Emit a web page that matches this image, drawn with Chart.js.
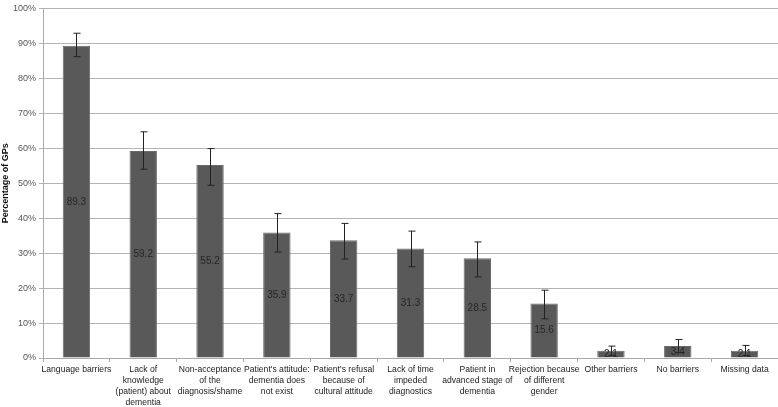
<!DOCTYPE html>
<html>
<head>
<meta charset="utf-8">
<script src="https://cdn.jsdelivr.net/npm/chart.js@4"></script>
<style>
  html, body { margin: 0; padding: 0; background: #fff; }
  #wrap { width: 778px; height: 407px; }
</style>
</head>
<body>
<div id="wrap"><canvas id="chart-area"></canvas></div>
<script>

/*=============================================
DATA
=============================================*/

const categories = [
    'Language barriers',
    ['Lack of', 'knowledge', '(patient) about', 'dementia'],
    ['Non-acceptance', 'of the', 'diagnosis/shame'],
    ["Patient's attitude:", 'dementia does', 'not exist'],
    ["Patient's refusal", 'because of', 'cultural attitude'],
    ['Lack of time', 'impeded', 'diagnostics'],
    ['Patient in', 'advanced stage of', 'dementia'],
    ['Rejection because', 'of different', 'gender'],
    'Other barriers',
    'No barriers',
    'Missing data'
]

const percentages = [89.3, 59.2, 55.2, 35.9, 33.7, 31.3, 28.5, 15.6, 2.1, 3.4, 2.1]

const errLow = [86.2, 54.0, 49.4, 30.3, 28.3, 26.1, 23.2, 11.2, 0.8, 1.5, 0.7]

const errHigh = [92.9, 64.7, 59.9, 41.3, 38.5, 36.3, 33.2, 19.4, 3.4, 5.3, 3.6]

const yTicks = [0, 10, 20, 30, 40, 50, 60, 70, 80, 90, 100]

const FONT = "'Liberation Sans', Arial, sans-serif"

/*=============================================
ERROR BARS + LABELS
=============================================*/

const errorBars = {
    id: 'errorBars',
    afterDatasetsDraw(chart) {
        let ctx = chart.ctx
        let meta = chart.getDatasetMeta(0)
        let y = chart.scales.y
        ctx.save()
        ctx.strokeStyle = '#222'
        ctx.lineWidth = 1
        meta.data.forEach((bar, i) => {
            let x = Math.round(bar.x) + 0.5
            let top = y.getPixelForValue(errHigh[i])
            let bot = y.getPixelForValue(errLow[i])
            ctx.beginPath()
            ctx.moveTo(x, top)
            ctx.lineTo(x, bot)
            ctx.moveTo(x - 3, top)
            ctx.lineTo(x + 4, top)
            ctx.moveTo(x - 3, bot)
            ctx.lineTo(x + 4, bot)
            ctx.stroke()
        })
        ctx.restore()
    }
}

const valueLabels = {
    id: 'valueLabels',
    afterDatasetsDraw(chart) {
        let ctx = chart.ctx
        let meta = chart.getDatasetMeta(0)
        let y = chart.scales.y
        ctx.save()
        ctx.fillStyle = '#262626'
        ctx.font = '10px ' + FONT
        ctx.textAlign = 'center'
        ctx.textBaseline = 'middle'
        meta.data.forEach((bar, i) => {
            let mid = (bar.y + y.getPixelForValue(0)) / 2
            ctx.fillText(String(percentages[i]), bar.x, mid)
        })
        ctx.restore()
    }
}

/*=============================================
CHART
=============================================*/

let config = {
    type: 'bar',
    data: {
        labels: categories,
        datasets: [{
            data: percentages,
            backgroundColor: '#595959',
            borderColor: '#6a6a6a',
            borderWidth: 1,
            barPercentage: 0.41,
            categoryPercentage: 1
        }]
    },
    options: {
        responsive: true,
        maintainAspectRatio: false,
        animation: false,
        layout: { padding: { top: 0, right: 0, left: 0, bottom: 0 } },
        plugins: {
            legend: { display: false },
            tooltip: { enabled: false }
        },
        scales: {
            x: {
                offset: true,
                afterFit: axis => {
                    axis.height = 49
                },
                grid: {
                    offset: true,
                    drawOnChartArea: false,
                    drawTicks: true,
                    tickLength: 4,
                    color: '#a8a8a8'
                },
                border: { color: '#a8a8a8' },
                ticks: {
                    color: '#222',
                    font: { family: FONT, size: 8.6, lineHeight: 1.28 },
                    maxRotation: 0,
                    minRotation: 0,
                    autoSkip: false,
                    padding: 2
                }
            },
            y: {
                min: 0,
                max: 100,
                afterBuildTicks: axis => {
                    axis.ticks = yTicks.map(v => ({ value: v }))
                },
                afterFit: axis => {
                    axis.width = 43
                },
                grid: {
                    color: '#b4b4b4',
                    tickLength: 4,
                    lineWidth: 1
                },
                border: { color: '#a8a8a8' },
                title: {
                    display: true,
                    text: 'Percentage of GPs',
                    color: '#111',
                    font: { family: FONT, size: 9, weight: 'bold' },
                    padding: 0
                },
                ticks: {
                    color: '#555',
                    font: { family: FONT, size: 9 },
                    padding: 3,
                    callback: v => v + '%'
                }
            }
        }
    },
    plugins: [errorBars, valueLabels]
}

let ctx = document.getElementById('chart-area').getContext('2d')
window.myBar = new Chart(ctx, config)

</script>
</body>
</html>
